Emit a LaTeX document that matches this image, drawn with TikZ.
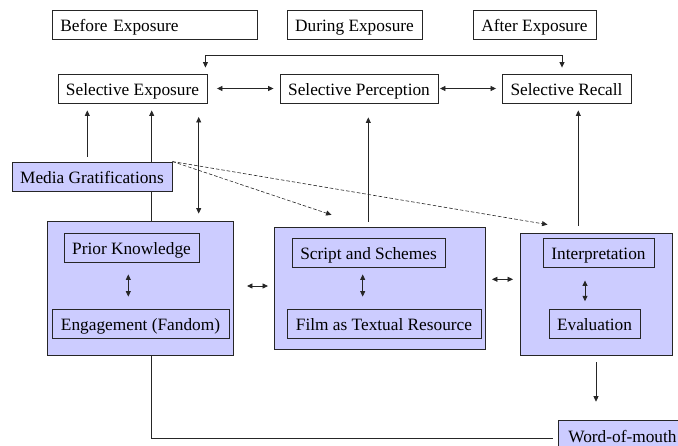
\documentclass[tikz,border=0pt]{standalone}
\usepackage{fontspec}
\setmainfont{Liberation Serif}
\usetikzlibrary{arrows.meta}
\definecolor{lavender}{HTML}{CCCCFF}

\begin{document}
\begin{tikzpicture}[
    x=1pt, y=-1pt,
    base_box/.style={rectangle, draw=black!85, line width=0.9pt, minimum height=29pt, inner xsep=0pt, inner ysep=0pt, text height=14.5pt, text depth=0pt, font=\fontsize{17.3}{20}\selectfont},
    stage_box/.style={base_box, fill=white},
    fill_box/.style={base_box, fill=lavender},
    group_box/.style={rectangle, draw=black!85, line width=0.9pt, fill=lavender},
    arrow/.style={-{Triangle[length=5.5pt,width=5pt]}, line width=0.8pt, black!85},
    dbl_arrow/.style={{Triangle[length=5.5pt,width=5pt]}-{Triangle[length=5.5pt,width=5pt]}, line width=0.8pt, black!85},
    dash_arrow/.style={arrow, dash pattern=on 3.5pt off 2pt, line width=0.6pt}
]
    \clip (0,0) rectangle (678,445);

    % Stages
    \node[stage_box, anchor=west, text width=189pt, align=left, minimum width=205pt] (before) at (52,24.5) {Before Exposure};
    \node[stage_box, minimum width=135pt] (during) at (354.5,24.5) {During Exposure};
    \node[stage_box, minimum width=123pt] (after) at (534.5,24.5) {After Exposure};

    % Selective processes
    \node[stage_box, minimum width=149pt] (selexp) at (132.5,88.5) {Selective Exposure};
    \node[stage_box, minimum width=158pt] (selper) at (359,88.5) {Selective Perception};
    \node[stage_box, minimum width=129pt] (selrec) at (566.5,88.5) {Selective Recall};

    % Groups
    \node[group_box, minimum width=186pt, minimum height=134pt] (box1) at (140,288) {};
    \node[group_box, minimum width=211pt, minimum height=122pt] (box2) at (379.5,288) {};
    \node[group_box, minimum width=152pt, minimum height=122pt] (box3) at (596,294) {};

    \node[fill_box, minimum width=135pt] (prior) at (131.5,247.5) {Prior Knowledge};
    \node[fill_box, minimum width=177pt] (engage) at (140.5,323.5) {Engagement (Fandom)};
    \node[fill_box, minimum width=153pt] (script) at (368.5,252.5) {Script and Schemes};
    \node[fill_box, minimum width=194pt] (film) at (384,323.5) {Film as Textual Resource};
    \node[fill_box, minimum width=111pt] (interp) at (598.5,252.5) {Interpretation};
    \node[fill_box, minimum width=91pt] (eval) at (594.5,323.5) {Evaluation};

    % Lines behind the gratifications box
    \draw[arrow, shorten >=7pt] ([xshift=11.7pt]box1.north) -- ([xshift=11.7pt]box1.north |- selexp.south);
    \node[fill_box, minimum width=160pt] (media) at (92,176.5) {Media Gratifications};

    \node[fill_box, anchor=north west, minimum width=128pt] (wom) at (558,420) {Word-of-mouth};

    % Arrows
    \draw[dbl_arrow] ([xshift=-2pt,yshift=6pt]selexp.north east) -- ++(0,-12) -| ([xshift=-4.5pt,yshift=6pt]selrec.north);
    \draw[dbl_arrow, shorten <=9.5pt, shorten >=6pt] (selexp.east) -- (selper.west);
    \draw[dbl_arrow, shorten <=1.5pt, shorten >=5.5pt] (selper.east) -- (selrec.west);

    \draw[arrow, shorten <=5pt, shorten >=7pt] ([xshift=-4.7pt]media.north) -- ([xshift=-4.7pt]media.north |- selexp.south);
    \draw[dbl_arrow, shorten <=7pt, shorten >=13.5pt] ([xshift=58.7pt]box1.north) -- ([xshift=58.7pt]box1.north |- selexp.south);
    \draw[arrow, shorten <=5pt, shorten >=14pt] ([xshift=-11.2pt]box2.north) -- ([xshift=-11.2pt]box2.north |- selper.south);
    \draw[arrow, shorten <=7pt, shorten >=7pt] ([xshift=-17.7pt]box3.north) -- ([xshift=-17.7pt]box3.north |- selrec.south);

    \draw[dash_arrow] (media.north east) -- ([xshift=58pt,yshift=11.7pt]box2.north west);
    \draw[dash_arrow] (media.north east) -- ([xshift=28pt,yshift=8pt]box3.north west);

    \draw[dbl_arrow, shorten <=13.5pt, shorten >=5.5pt] ([yshift=2pt]box1.east) -- ([yshift=2pt]box1.east -| box2.west);
    \draw[dbl_arrow, shorten <=6.5pt, shorten >=6.5pt] ([yshift=8.7pt]box2.east) -- ([yshift=8.7pt]box2.east -| box3.west);

    \draw[dbl_arrow, shorten <=12pt, shorten >=12pt] ([xshift=-3.2pt]prior.south) -- ([xshift=-3.2pt]prior.south |- engage.north);
    \draw[dbl_arrow, shorten <=7pt, shorten >=12pt] ([xshift=-5.8pt]script.south) -- ([xshift=-5.8pt]script.south |- film.north);
    \draw[dbl_arrow, shorten <=13pt, shorten >=7.3pt] ([xshift=-13.5pt]interp.south) -- ([xshift=-13.5pt]interp.south |- eval.north);

    \draw[arrow, shorten <=6.7pt, shorten >=18.3pt] (box3.south) -- (box3.south |- wom.north);
    \draw[line width=0.8pt, black!85, shorten >=5pt] ([xshift=11.7pt]box1.south) |- ([yshift=-3pt]wom.west);
\end{tikzpicture}
\end{document}
